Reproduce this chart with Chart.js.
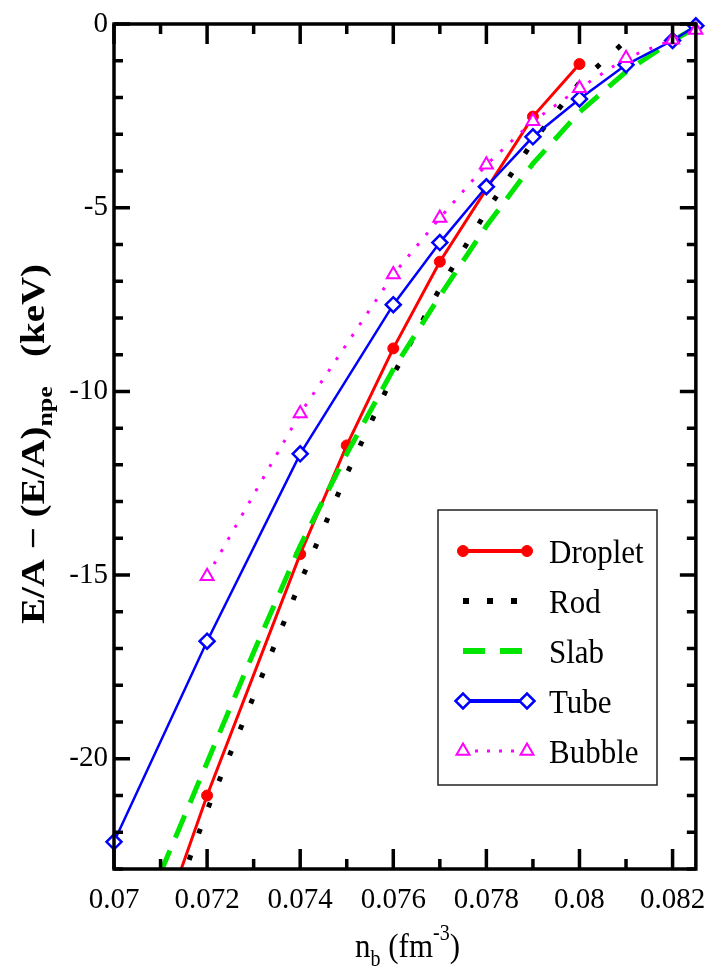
<!DOCTYPE html>
<html>
<head>
<meta charset="utf-8">
<title>Energy difference of pasta phases</title>
<script src="https://cdn.jsdelivr.net/npm/chart.js"></script>
<style>
  body { margin: 0; background: #fff; }
  #wrap { width: 720px; height: 973px; }
</style>
</head>
<body>
<div id="wrap"><canvas id="pasta_chart" width="720" height="973"></canvas></div>
<script>
// values (n_b in fm^-3, energy in keV)
const dropletX = [0.071, 0.072, 0.074, 0.075, 0.076, 0.077, 0.079, 0.080];
const dropletY = [-24.6, -21.0, -14.43, -11.47, -8.83, -6.47, -2.52, -1.09];

const rodX = [0.071, 0.072, 0.073, 0.074, 0.075, 0.076, 0.077, 0.078, 0.079, 0.080, 0.081];
const rodY = [-24.9, -21.4, -18.3, -15.2, -12.25, -9.55, -7.2, -5.1, -3.2, -1.6, -0.45];

const slabX = [0.071, 0.072, 0.073, 0.074, 0.075, 0.076, 0.077, 0.078, 0.079, 0.080, 0.081, 0.082, 0.0825];
const slabY = [-23.1, -20.1, -17.1, -14.2, -11.7, -9.4, -7.4, -5.5, -3.8, -2.4, -1.3, -0.45, -0.1];

const tubeX = [0.070, 0.072, 0.074, 0.076, 0.077, 0.078, 0.079, 0.080, 0.081, 0.082, 0.0825];
const tubeY = [-22.26, -16.8, -11.7, -7.64, -5.95, -4.43, -3.07, -2.04, -1.11, -0.45, -0.05];

const bubbleX = [0.072, 0.074, 0.076, 0.077, 0.078, 0.079, 0.080, 0.081, 0.082, 0.0825];
const bubbleY = [-15.03, -10.6, -6.82, -5.28, -3.83, -2.65, -1.75, -0.93, -0.43, -0.16];

const seriesNames = ['Droplet', 'Rod', 'Slab', 'Tube', 'Bubble'];

function pts(xs, ys) {
    return xs.map((x, i) => ({ x: x, y: ys[i] }));
}

const SERIF = '"Liberation Serif", "Times New Roman", Times, serif';

// frame + inward ticks on all four sides
const frameTicks = {
    id: 'frameTicks',
    afterDraw(chart) {
        const ctx = chart.ctx, a = chart.chartArea;
        const xs = chart.scales.x, ys = chart.scales.y;
        ctx.save();
        ctx.strokeStyle = '#000';
        ctx.lineWidth = 3.5;
        ctx.beginPath();
        xs.ticks.forEach(t => {
            const px = xs.getPixelForValue(t.value);
            const len = t.label ? 20 : 10;
            ctx.moveTo(px, a.bottom); ctx.lineTo(px, a.bottom - len);
            ctx.moveTo(px, a.top); ctx.lineTo(px, a.top + len);
        });
        ys.ticks.forEach(t => {
            const py = ys.getPixelForValue(t.value);
            const len = t.label ? 16 : 9;
            ctx.moveTo(a.left, py); ctx.lineTo(a.left + len, py);
            ctx.moveTo(a.right, py); ctx.lineTo(a.right - len, py);
        });
        ctx.stroke();
        ctx.strokeRect(a.left, a.top, a.right - a.left, a.bottom - a.top);
        ctx.restore();
    }
};

function marker(ctx, style, x, y, r) {
    ctx.beginPath();
    if (style === 'circle') {
        ctx.arc(x, y, r, 0, Math.PI * 2);
    } else if (style === 'rectRot') {
        ctx.moveTo(x - r, y); ctx.lineTo(x, y - r); ctx.lineTo(x + r, y); ctx.lineTo(x, y + r);
        ctx.closePath();
    } else if (style === 'triangle') {
        ctx.moveTo(x, y - r);
        ctx.lineTo(x + r * 0.866, y + r / 2);
        ctx.lineTo(x - r * 0.866, y + r / 2);
        ctx.closePath();
    }
    ctx.fill();
    ctx.stroke();
}

// text stretched a bit vertically, the original figure is not square-scaled
function tallText(ctx, txt, x, y, sy) {
    ctx.save();
    ctx.translate(x, y);
    ctx.scale(1, sy);
    ctx.fillText(txt, 0, 0);
    ctx.restore();
}

// legend box inside the plot, like the original
const boxLegend = {
    id: 'boxLegend',
    afterDraw(chart) {
        const ctx = chart.ctx;
        const legendDash = [[], [6, 18], [22, 15], [], [3, 9]];
        ctx.save();
        ctx.strokeStyle = '#222';
        ctx.lineWidth = 1.5;
        ctx.strokeRect(438, 510, 219, 275);
        chart.data.datasets.forEach((ds, i) => {
            const y = 551 + i * 50;
            ctx.strokeStyle = ds.borderColor;
            ctx.lineWidth = i === 1 || i === 2 ? 6 : (i === 4 ? 3 : 4);
            ctx.setLineDash(legendDash[i]);
            ctx.beginPath();
            ctx.moveTo(463, y); ctx.lineTo(527, y);
            ctx.stroke();
            ctx.setLineDash([]);
            if (ds.pointRadius > 0) {
                ctx.fillStyle = ds.pointBackgroundColor;
                ctx.lineWidth = ds.pointBorderWidth;
                marker(ctx, ds.pointStyle, 463, y, ds.pointRadius);
                marker(ctx, ds.pointStyle, 527, y, ds.pointRadius);
            }
            ctx.fillStyle = '#000';
            ctx.font = '31px ' + SERIF;
            ctx.textBaseline = 'alphabetic';
            tallText(ctx, ds.label, 549, y + 12, 1.12);
        });
        ctx.restore();
    }
};

// axis titles with sub/superscripts
const axisTitles = {
    id: 'axisTitles',
    afterDraw(chart) {
        const ctx = chart.ctx;
        ctx.save();
        ctx.fillStyle = '#000';
        ctx.textBaseline = 'alphabetic';
        // y title, rotated
        const big = 'bold 33px ' + SERIF, small = 'bold 22px ' + SERIF;
        const parts = [['E/A \u2212 (E/A)', big, 0], ['npe', small, 8], ['   (keV)', big, 0]];
        let total = 0;
        parts.forEach(p => { ctx.font = p[1]; total += ctx.measureText(p[0]).width; });
        ctx.translate(44, 444);
        ctx.rotate(-Math.PI / 2);
        ctx.scale(1.18, 1);
        let x = -total / 2;
        parts.forEach(p => {
            ctx.font = p[1];
            ctx.fillText(p[0], x, p[2]);
            x += ctx.measureText(p[0]).width;
        });
        ctx.setTransform(1, 0, 0, 1, 0, 0);
        // x title
        const xParts = [['n', '31px ' + SERIF, 0], ['b', '20px ' + SERIF, 9], [' (fm', '31px ' + SERIF, 0],
                        ['-3', '20px ' + SERIF, -17], [')', '31px ' + SERIF, 0]];
        let xx = 355;
        xParts.forEach(p => {
            ctx.font = p[1];
            tallText(ctx, p[0], xx, 957 + p[2], 1.12);
            xx += ctx.measureText(p[0]).width;
        });
        ctx.restore();
    }
};

const ctx = document.getElementById('pasta_chart').getContext('2d');
new Chart(ctx, {
    type: 'line',
    data: {
        datasets: [{
            label: seriesNames[0],
            data: pts(dropletX, dropletY),
            borderColor: '#ff0000',
            borderWidth: 3,
            pointStyle: 'circle',
            pointRadius: 5.5,
            pointBackgroundColor: '#ff0000',
            pointBorderColor: '#ff0000',
            pointBorderWidth: 1,
            order: 5
        }, {
            label: seriesNames[1],
            data: pts(rodX, rodY),
            borderColor: '#000000',
            borderWidth: 5,
            borderDash: [5, 23],
            pointRadius: 0,
            order: 4
        }, {
            label: seriesNames[2],
            data: pts(slabX, slabY),
            borderColor: '#00e600',
            borderWidth: 5,
            borderDash: [24, 14],
            pointRadius: 0,
            order: 3
        }, {
            label: seriesNames[3],
            data: pts(tubeX, tubeY),
            borderColor: '#0000ff',
            borderWidth: 2.5,
            pointStyle: 'rectRot',
            pointRadius: 7.5,
            pointBackgroundColor: '#ffffff',
            pointBorderColor: '#0000ff',
            pointBorderWidth: 2.5,
            order: 2
        }, {
            label: seriesNames[4],
            data: pts(bubbleX, bubbleY),
            borderColor: '#ff00ff',
            borderWidth: 3,
            borderDash: [3, 11],
            pointStyle: 'triangle',
            pointRadius: 7.5,
            pointBackgroundColor: '#ffffff',
            pointBorderColor: '#ff00ff',
            pointBorderWidth: 2,
            order: 1
        }]
    },
    options: {
        responsive: false,
        animation: false,
        clip: { left: 12, top: 12, right: 12, bottom: 0 },
        elements: { line: { tension: 0, fill: false } },
        layout: { padding: { top: 24, right: 20, left: 0, bottom: 0 } },
        scales: {
            x: {
                type: 'linear',
                min: 0.07,
                max: 0.0825,
                afterFit(scale) { scale.height = 104; },
                grid: { drawOnChartArea: false, drawTicks: false },
                border: { display: false },
                ticks: {
                    stepSize: 0.001,
                    includeBounds: false,
                    autoSkip: false,
                    maxRotation: 0,
                    minRotation: 0,
                    padding: 14,
                    color: '#000',
                    font: { family: SERIF, size: 29 },
                    callback(v) {
                        const k = Math.round(v * 1000);
                        if (Math.abs(v * 1000 - k) > 1e-6 || k % 2) return '';
                        return String(+(k / 1000).toFixed(3));
                    }
                }
            },
            y: {
                min: -23,
                max: 0,
                afterFit(scale) { scale.width = 114; },
                grid: { drawOnChartArea: false, drawTicks: false },
                border: { display: false },
                ticks: {
                    stepSize: 1,
                    autoSkip: false,
                    padding: 6,
                    color: '#000',
                    font: { family: SERIF, size: 29 },
                    callback(v) { return v % 5 === 0 ? String(v) : ''; }
                }
            }
        },
        plugins: {
            legend: { display: false },
            tooltip: { enabled: false }
        }
    },
    plugins: [frameTicks, boxLegend, axisTitles]
});
</script>
</body>
</html>
